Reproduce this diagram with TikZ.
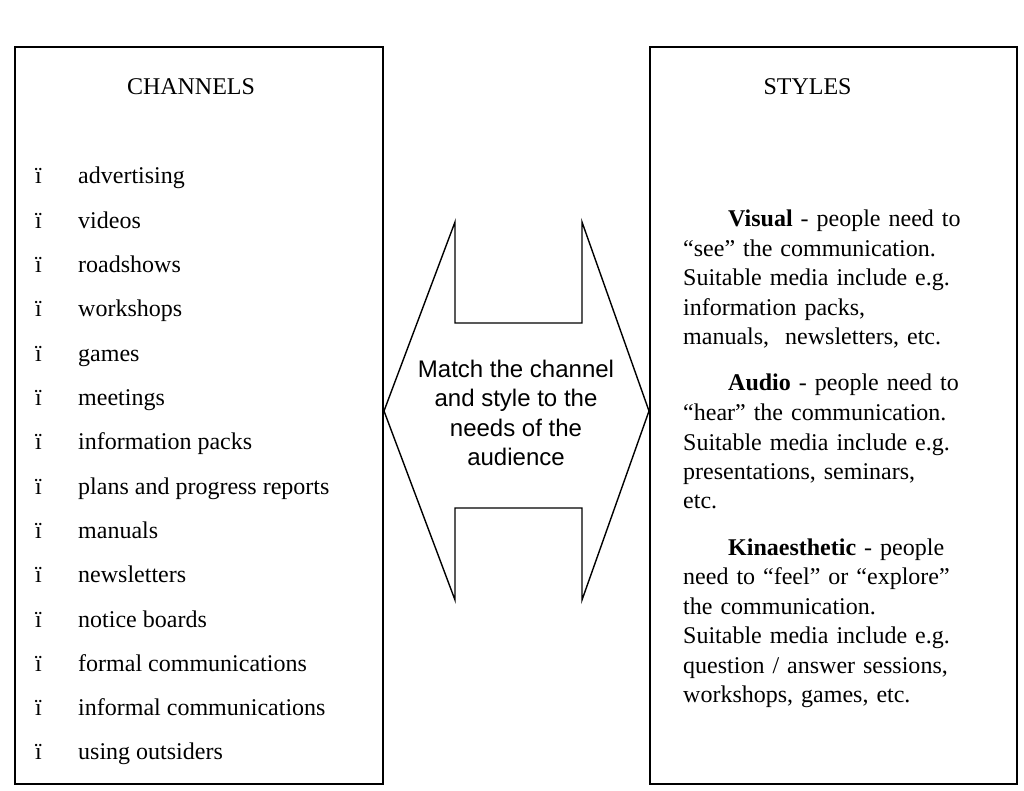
\documentclass[tikz,border=0pt]{standalone}
\usepackage{fontspec}
\setmainfont{Liberation Serif}
\newfontfamily\arialfont{Liberation Sans}
\usetikzlibrary{positioning}

\begin{document}
\begin{tikzpicture}[x=1pt,y=-1pt,
  panel/.style={draw,line width=1.6pt},
  heading/.style={font=\fontsize{24}{29.5}\selectfont,anchor=base,inner sep=0pt},
  entry/.style={font=\fontsize{24}{29.5}\selectfont,anchor=base west,inner sep=0pt}]
  \useasboundingbox (0,0) rectangle (1024,791);
  %left
  \draw[panel] (15,47) rectangle (383,784);
  \node[heading] (channels) at (191,95) {CHANNELS};
  \foreach \txt [count=\i from 0] in {advertising,videos,roadshows,workshops,games,meetings,information packs,plans and progress reports,manuals,newsletters,notice boards,formal communications,informal communications,using outsiders}{
    \node[entry] (dot-\i) at (35,{184+44.3*\i}) {ï};
    \node[entry] (item-\i) at (78,{184+44.3*\i}) {\txt};
  }

  %middle
  \draw[line width=1.4pt,line join=miter] (384,411) -- (455,222) -- (455,323) -- (582,323) -- (582,222)
    -- (649,411) -- (582,600) -- (582,508) -- (455,508) -- (455,600) -- cycle;
  \node[align=center,font=\arialfont\fontsize{24}{29.3}\selectfont,inner sep=0pt] (match) at (516,413)
    {Match the channel\\and style to the\\needs of the\\audience};

  %right
  \draw[panel] (650,47) rectangle (1017,784);
  \node[heading] (styles) at (807.5,95) {STYLES};
  \node[entry,text width=330pt,font=\fontsize{24}{29.5}\selectfont] (kinds) at (683,227)
    {\raggedright\setlength{\parskip}{16.5pt}%
     \hspace*{45pt}\textbf{Visual} - people need to\\
     “see” the communication.\\
     Suitable media include e.g.\\
     information packs,\\
     manuals,\ \ newsletters, etc.\par
     \hspace*{45pt}\textbf{Audio} - people need to\\
     “hear” the communication.\\
     Suitable media include e.g.\\
     presentations, seminars,\\
     etc.\par
     \hspace*{45pt}\textbf{Kinaesthetic} - people\\
     need to “feel” or “explore”\\
     the communication.\\
     Suitable media include e.g.\\
     question / answer sessions,\\
     workshops, games, etc.\par};
\end{tikzpicture}
\end{document}
